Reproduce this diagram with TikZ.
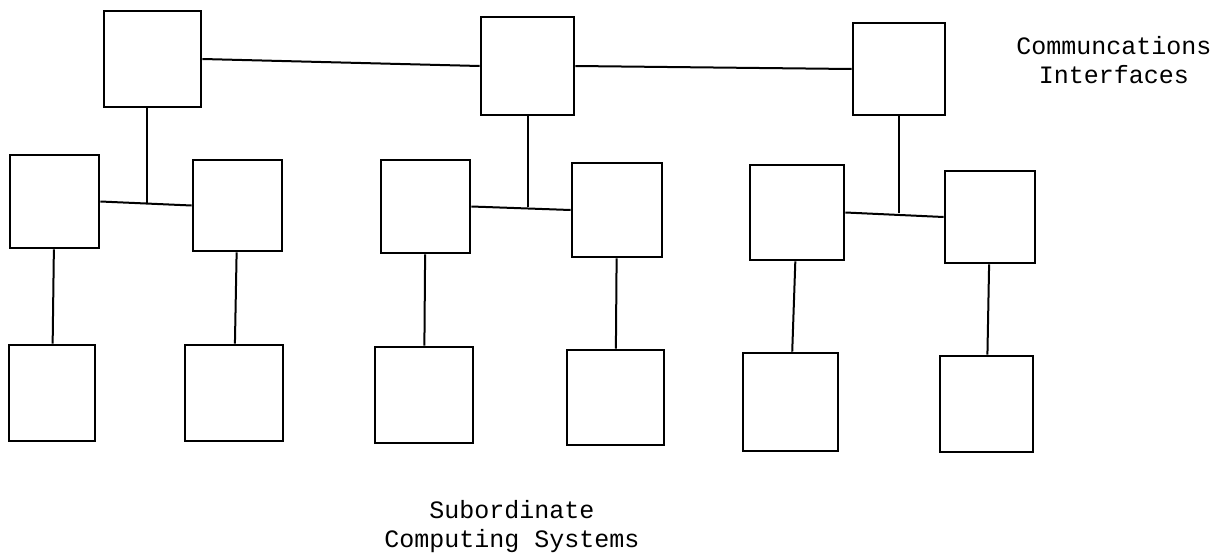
\documentclass[tikz,border=0pt]{standalone}
\usepackage{fontspec}
\setmonofont{Liberation Mono}
\begin{document}
\begin{tikzpicture}[x=0.5pt,y=-0.5pt,font=\ttfamily\fontsize{12.5}{14.5}\selectfont]
  \tikzset{unit/.style={draw,line width=1.4pt,inner sep=0pt},
           link/.style={line width=1pt}}
  \useasboundingbox (0,0) rectangle (1222,557);
  % boxes, given by their corners
  \foreach \name/\xa/\ya/\xb/\yb in {iface1/104/11/201/107, iface2/481/17/574/115, iface3/853/23/945/115,
      sys1/10/155/99/248, sys2/193/160/282/251, sys3/381/160/470/253,
      sys4/572/163/662/257, sys5/750/165/844/260, sys6/945/171/1035/263,
      low1/9/345/95/441, low2/185/345/283/441, low3/375/347/473/443,
      low4/567/350/664/445, low5/743/353/838/451, low6/940/356/1033/452}
    \node[unit,minimum width={(\xb-\xa)*0.5pt},minimum height={(\yb-\ya)*0.5pt}]
      (\name) at ({(\xa+\xb)/2},{(\ya+\yb)/2}) {};
  % interface ring
  \draw[link] (iface1.east) -- (iface2.west);
  \draw[link] (iface2.east) -- (iface3.west);
  % pairs hanging off each interface
  \foreach \a/\b in {1/2,3/4,5/6}
    \draw[link] (sys\a.east) -- (sys\b.west);
  \coordinate (j1) at (147,203);
  \draw[link] (iface1.south -| j1) -- (j1);
  \draw[link] (iface2.south) -- (iface2.south |- sys3.east);
  \draw[link] (iface3.south) -- (iface3.south |- sys5.east);
  \foreach \i in {1,...,6}
    \draw[link] (sys\i) -- (low\i);
  \node[align=center] (ifacelabel) at (1114,60) {Communcations\\Interfaces};
  \node[align=center] (syslabel) at (512,527) {Subordinate\\Computing Systems};
\end{tikzpicture}
\end{document}
